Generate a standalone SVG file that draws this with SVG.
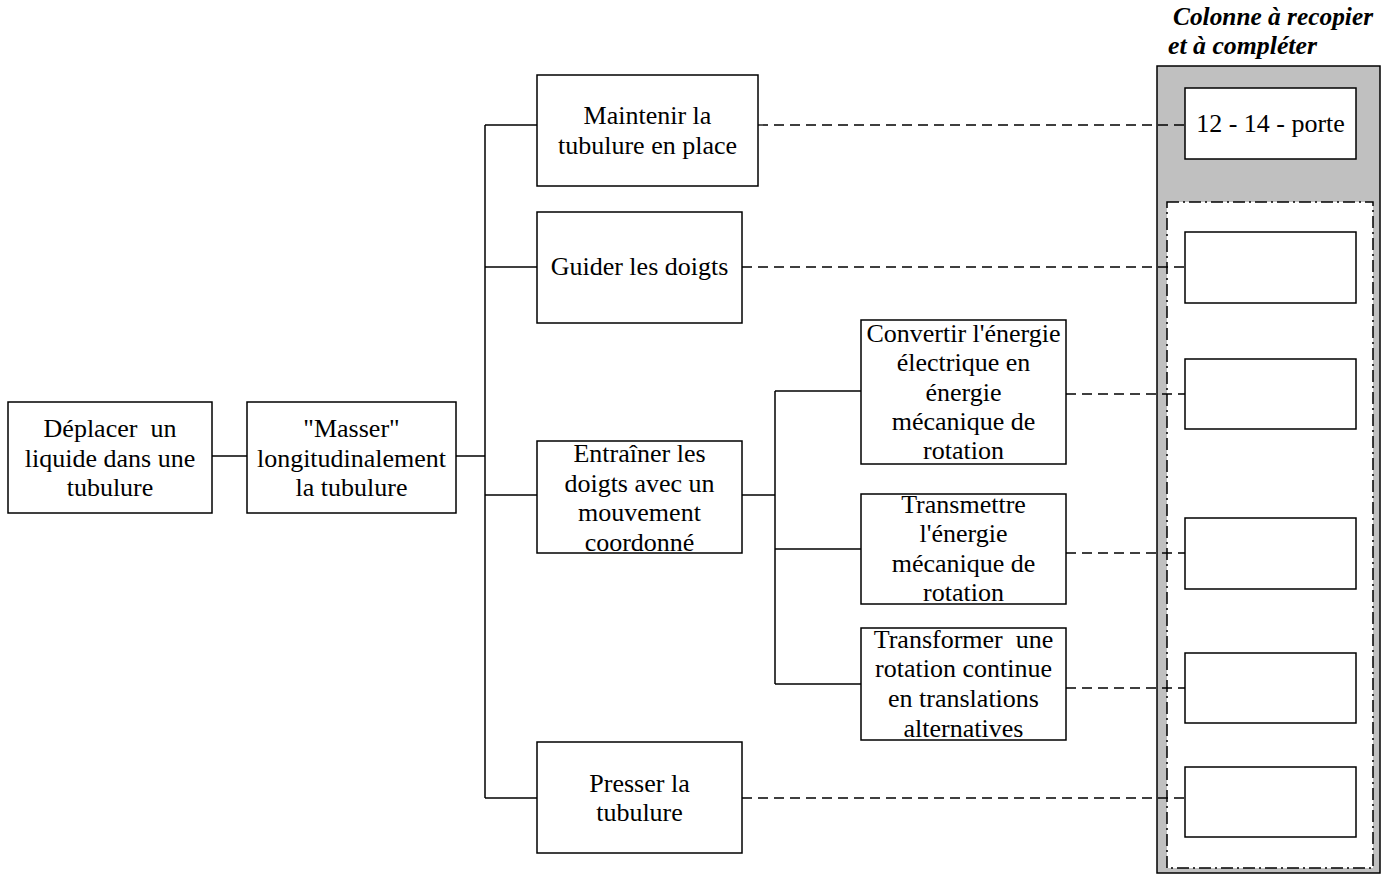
<svg xmlns="http://www.w3.org/2000/svg" width="1394" height="877" viewBox="0 0 1394 877">
<style>
.box{fill:#fff;stroke:#000;stroke-width:1.5}
.t{font-family:"Liberation Serif","Times New Roman",serif;font-size:26px;fill:#000;text-anchor:middle}
.ln{stroke:#000;stroke-width:1.5;fill:none}
.dash{stroke:#000;stroke-width:1.3;fill:none;stroke-dasharray:10,6}
.title{font-family:"Liberation Serif","Times New Roman",serif;font-size:26px;font-weight:bold;font-style:italic;fill:#000}
</style>
<rect width="1394" height="877" fill="#fff"/>
<g id="column">
<rect x="1157" y="66" width="223" height="807" fill="#c0c0c0" stroke="#000" stroke-width="1.5"/>
<rect x="1167" y="202" width="206" height="666" fill="#fff" stroke="#000" stroke-width="1.5" stroke-dasharray="12,4,2,4"/>
<text class="title" x="1173" y="25" textLength="200" lengthAdjust="spacingAndGlyphs">Colonne à recopier</text>
<text class="title" x="1168" y="54" textLength="149" lengthAdjust="spacingAndGlyphs">et à compléter</text>
</g>
<g id="connectors">
<line class="ln" x1="212" y1="456" x2="247" y2="456"/>
<line class="ln" x1="456" y1="456" x2="485" y2="456"/>
<line class="ln" x1="485" y1="125" x2="485" y2="798"/>
<line class="ln" x1="485" y1="125" x2="537" y2="125"/>
<line class="ln" x1="485" y1="267" x2="537" y2="267"/>
<line class="ln" x1="485" y1="495" x2="537" y2="495"/>
<line class="ln" x1="485" y1="798" x2="537" y2="798"/>
<line class="ln" x1="742" y1="495" x2="775" y2="495"/>
<line class="ln" x1="775" y1="391" x2="775" y2="684"/>
<line class="ln" x1="775" y1="391" x2="861" y2="391"/>
<line class="ln" x1="775" y1="549" x2="861" y2="549"/>
<line class="ln" x1="775" y1="684" x2="861" y2="684"/>
<line class="dash" x1="758" y1="125" x2="1185" y2="125"/>
<line class="dash" x1="742" y1="267" x2="1185" y2="267"/>
<line class="dash" x1="1066" y1="394" x2="1185" y2="394"/>
<line class="dash" x1="1066" y1="553" x2="1185" y2="553"/>
<line class="dash" x1="1066" y1="688" x2="1185" y2="688"/>
<line class="dash" x1="742" y1="798" x2="1185" y2="798"/>
</g>
<g id="n-deplacer">
<rect class="box" x="8" y="402" width="204" height="111"/>
<text class="t" x="110" y="437" xml:space="preserve">Déplacer  un</text>
<text class="t" x="110" y="466.5">liquide dans une</text>
<text class="t" x="110" y="496">tubulure</text>
</g>
<g id="n-masser">
<rect class="box" x="247" y="402" width="209" height="111"/>
<text class="t" x="351.5" y="437">"Masser"</text>
<text class="t" x="351.5" y="466.5">longitudinalement</text>
<text class="t" x="351.5" y="496">la tubulure</text>
</g>
<g id="n-maintenir">
<rect class="box" x="537" y="75" width="221" height="111"/>
<text class="t" x="647.5" y="124">Maintenir la</text>
<text class="t" x="647.5" y="154">tubulure en place</text>
</g>
<g id="n-guider">
<rect class="box" x="537" y="212" width="205" height="111"/>
<text class="t" x="639.5" y="275">Guider les doigts</text>
</g>
<g id="n-entrainer">
<rect class="box" x="537" y="441" width="205" height="112"/>
<text class="t" x="639.5" y="462">Entraîner les</text>
<text class="t" x="639.5" y="491.5">doigts avec un</text>
<text class="t" x="639.5" y="521">mouvement</text>
<text class="t" x="639.5" y="550.5">coordonné</text>
</g>
<g id="n-presser">
<rect class="box" x="537" y="742" width="205" height="111"/>
<text class="t" x="639.5" y="792">Presser la</text>
<text class="t" x="639.5" y="821">tubulure</text>
</g>
<g id="n-convertir">
<rect class="box" x="861" y="320" width="205" height="144"/>
<text class="t" x="963.5" y="342">Convertir l'énergie</text>
<text class="t" x="963.5" y="371">électrique en</text>
<text class="t" x="963.5" y="401">énergie</text>
<text class="t" x="963.5" y="430">mécanique de</text>
<text class="t" x="963.5" y="459">rotation</text>
</g>
<g id="n-transmettre">
<rect class="box" x="861" y="494" width="205" height="110"/>
<text class="t" x="963.5" y="513">Transmettre</text>
<text class="t" x="963.5" y="542">l'énergie</text>
<text class="t" x="963.5" y="572">mécanique de</text>
<text class="t" x="963.5" y="601">rotation</text>
</g>
<g id="n-transformer">
<rect class="box" x="861" y="628" width="205" height="112"/>
<text class="t" x="963.5" y="648" xml:space="preserve">Transformer  une</text>
<text class="t" x="963.5" y="677">rotation continue</text>
<text class="t" x="963.5" y="707">en translations</text>
<text class="t" x="963.5" y="737">alternatives</text>
</g>
<g id="c-1">
<rect class="box" x="1185" y="88" width="171" height="71"/>
<text class="t" x="1270.5" y="132">12 - 14 - porte</text>
</g>
<g id="c-2"><rect class="box" x="1185" y="232" width="171" height="71"/></g>
<g id="c-3"><rect class="box" x="1185" y="359" width="171" height="70"/></g>
<g id="c-4"><rect class="box" x="1185" y="518" width="171" height="71"/></g>
<g id="c-5"><rect class="box" x="1185" y="653" width="171" height="70"/></g>
<g id="c-6"><rect class="box" x="1185" y="767" width="171" height="70"/></g>
</svg>
